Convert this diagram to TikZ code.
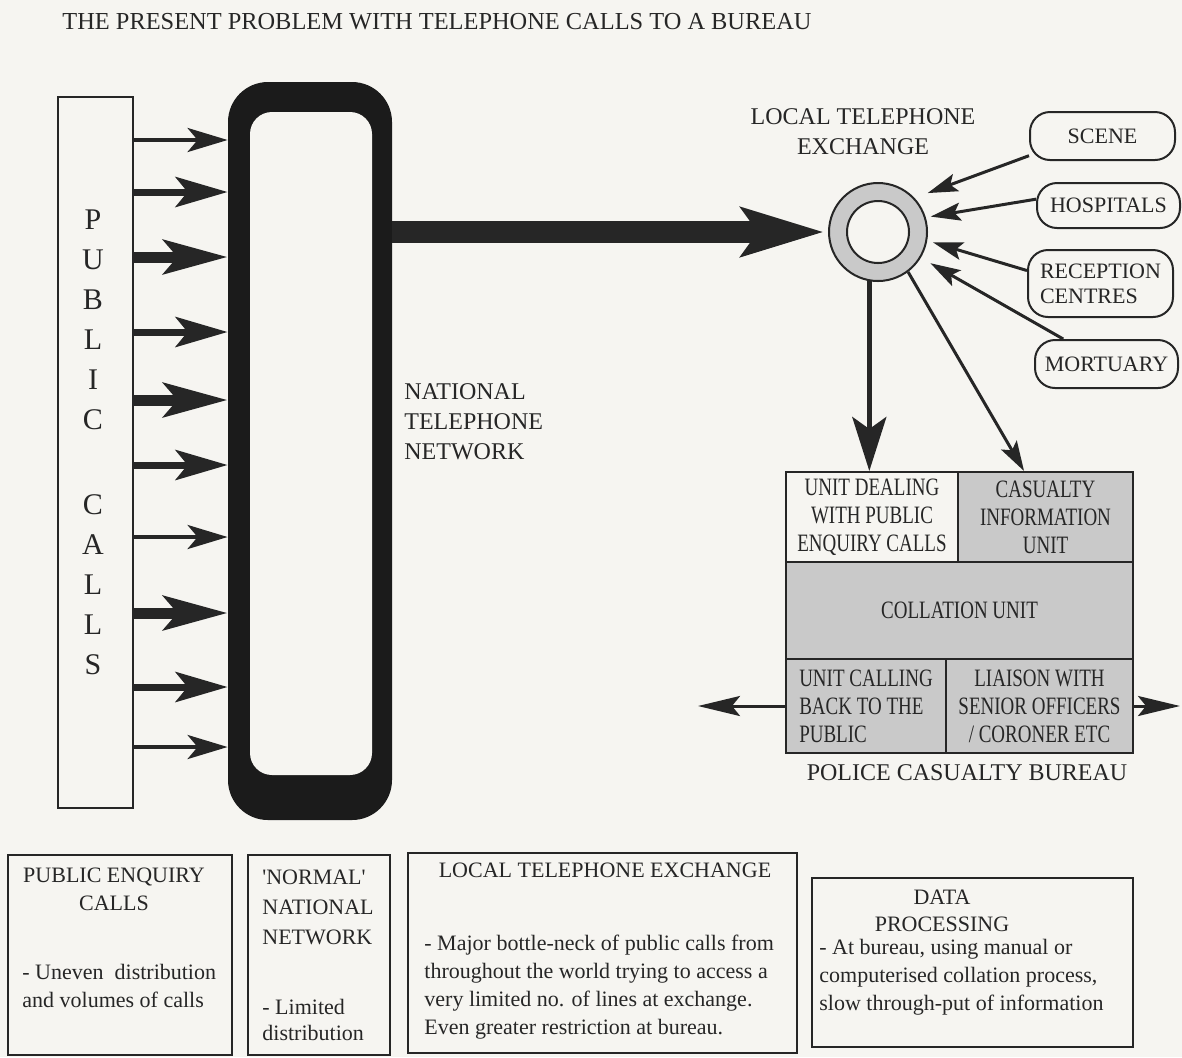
\documentclass[tikz,border=0pt]{standalone}
\usepackage{fontspec}
\setmainfont{Liberation Serif}
\newfontfamily\cellfont[FakeStretch=0.76]{Liberation Serif}
\usepackage{xcolor}
\usetikzlibrary{arrows.meta}
\definecolor{paper}{RGB}{246,245,241}
\definecolor{ink}{RGB}{38,38,38}

\begin{document}
\begin{tikzpicture}[
  x=0.5pt, y=-0.5pt,
  every node/.style={text=ink},
  plainbox/.style={draw=ink, line width=1pt, inner sep=0pt},
  srcbox/.style={draw=ink, line width=1pt, rounded corners=10pt, inner sep=0pt,
                 align=center, font=\fontsize{11}{12.5}\selectfont},
  cell/.style={draw=ink, line width=1pt, inner sep=0pt, align=center,
               font=\cellfont\fontsize{12.5}{14}\selectfont},
  shaded/.style={cell, fill=gray!42},
  lbl/.style={font=\fontsize{12}{15}\selectfont, inner sep=0pt},
  note/.style={font=\fontsize{11}{14}\selectfont, inner sep=0pt},
  callthin/.style={draw=ink, line width=2pt,
                   -{Stealth[length=20pt, width=12pt, inset=5pt]}},
  callmid/.style={draw=ink, line width=3.5pt,
                  -{Stealth[length=26pt, width=15pt, inset=6pt]}},
  callthick/.style={draw=ink, line width=5.5pt,
                    -{Stealth[length=32pt, width=17pt, inset=7pt]}},
  trunk/.style={draw=ink, line width=11pt,
                -{Stealth[length=41pt, width=24pt, inset=8pt]}},
  feed/.style={draw=ink, line width=1.5pt,
               -{Stealth[length=15pt, width=9pt, inset=3pt]}},
  drop/.style={draw=ink, line width=2.5pt,
               -{Stealth[length=27pt, width=17pt, inset=6pt]}},
]
  % paper and frame of the page
  \fill[paper] (0,0) rectangle (1182,1057);
  \useasboundingbox (0,0) rectangle (1182,1057);

  % Title
  \node[anchor=west, inner sep=0pt, font=\fontsize{12.2}{14}\selectfont]
    (title) at (62,22) {THE PRESENT PROBLEM WITH TELEPHONE CALLS TO A BUREAU};

  % Public calls column
  \node[plainbox, minimum width=37.5pt, minimum height=355.5pt] (pubbox) at (95.5,452.5) {};
  \node[align=center, inner sep=0pt, font=\fontsize{15}{20}\selectfont]
    (publetters) at (93,442) {P\\U\\B\\L\\I\\C\\[22.5pt]C\\A\\L\\L\\S};

  % National network (thick frame)
  \node[fill=ink!70!black, rounded corners=20pt, minimum width=82pt, minimum height=369pt,
        inner sep=0pt] (netframe) at (310,451) {};
  \node[fill=paper, rounded corners=11pt, minimum width=61pt, minimum height=331.5pt,
        inner sep=0pt] (nethole) at (311,443.5) {};
  \node[lbl, anchor=west, align=left] (natlabel) at (404,422)
    {NATIONAL\\TELEPHONE\\NETWORK};

  % Calls into the network
  \foreach \y/\kind in {140/callthin, 192/callmid, 257/callthick, 332/callmid,
                        400/callthick, 465/callmid, 537/callthin, 613/callthick,
                        687/callmid, 747/callthin}
    \draw[\kind] (pubbox.east |- 0,\y) -- (netframe.west |- 0,\y);

  % Local exchange
  \node[circle, draw=ink, line width=1pt, fill=gray!42, minimum size=49pt,
        inner sep=0pt] (ring) at (878,232) {};
  \node[circle, draw=ink, line width=1pt, fill=paper, minimum size=31pt,
        inner sep=0pt] (ringhole) at (878,232) {};
  \node[lbl, align=center] (exchlabel) at (863,132) {LOCAL TELEPHONE\\EXCHANGE};
  \draw[trunk, shorten >=2pt] (netframe.east |- ring.west) -- (ring.west);

  % Other callers
  \node[srcbox, minimum width=72.5pt, minimum height=24pt] (scene) at (1102.5,136) {SCENE};
  \node[srcbox, minimum width=71.5pt, minimum height=22.5pt] (hosp) at (1108.5,205.5) {HOSPITALS};
  \node[srcbox, minimum width=72.5pt, minimum height=33.5pt, align=left] (recep)
    at (1100.5,283.5) {RECEPTION\\CENTRES};
  \node[srcbox, minimum width=71.5pt, minimum height=24pt] (mort) at (1106.5,364) {MORTUARY};

  \draw[feed, shorten >=7pt] (scene.195) -- (ring.43);
  \draw[feed, shorten >=2.5pt] (hosp.175) -- (ring.17);
  \draw[feed, shorten >=3pt] (recep.170) -- (ring.-10);
  \draw[feed, shorten >=5.5pt] (mort.150) -- (ring.-31);

  % Police casualty bureau
  \node[cell, fill=paper, minimum width=86pt, minimum height=45pt] (deal) at (872,517)
    {UNIT DEALING\\WITH PUBLIC\\ENQUIRY CALLS};
  \node[shaded, minimum width=87.5pt, minimum height=45pt] (info) at (1045.5,517)
    {CASUALTY\\INFORMATION\\UNIT};
  \node[shaded, minimum width=173.5pt, minimum height=48.5pt] (coll) at (959.5,610.5)
    {COLLATION UNIT};
  \node[shaded, minimum width=80pt, minimum height=47pt, align=left] (back) at (866,706)
    {UNIT CALLING\\BACK TO THE\\PUBLIC};
  \node[shaded, minimum width=93.5pt, minimum height=47pt] (liaison) at (1039.5,706)
    {LIAISON WITH\\SENIOR OFFICERS\\/ CORONER ETC};
  \node[lbl] (bureaulabel) at (967,773) {POLICE CASUALTY BUREAU};

  \draw[drop] (ring.-100) -- (ring.-100 |- deal.north);
  \draw[feed] (ring.-53) -- (info.115);

  \coordinate (outleft) at (698,706);
  \coordinate (outright) at (1180,706);
  \draw[feed, -{Stealth[length=21pt, width=10pt, inset=4pt]}] (back.west) -- (outleft);
  \draw[feed, -{Stealth[length=21pt, width=10pt, inset=4pt]}] (liaison.east) -- (outright);

  % Notes along the bottom
  \node[plainbox, minimum width=112pt, minimum height=100pt] (pubnote) at (120,955) {};
  \node[plainbox, minimum width=71pt, minimum height=100pt] (netnote) at (319,955) {};
  \node[plainbox, minimum width=194.5pt, minimum height=100pt] (exchnote) at (602.5,953) {};
  \node[plainbox, minimum width=160.5pt, minimum height=84.5pt] (datanote) at (972.5,962.5) {};

  \node[note, align=center] (pubhead) at (114,889) {PUBLIC ENQUIRY\\CALLS};
  \node[note, anchor=west, align=left] (pubbody) at (22,986)
    {- Uneven\ \ distribution\\and volumes of calls};

  \node[note, anchor=west, align=left, font=\fontsize{11}{15}\selectfont] (nethead) at (262,907)
    {\textquotesingle NORMAL\textquotesingle\\NATIONAL\\NETWORK};
  \node[note, anchor=west, align=left, font=\fontsize{11}{13}\selectfont] (netbody) at (262,1020)
    {- Limited\\distribution};

  \node[note] (exchhead) at (605,870) {LOCAL TELEPHONE EXCHANGE};
  \node[note, anchor=west, align=left] (exchbody) at (424,987)
    {- Major bottle-neck of public calls from\\throughout the world trying to access a\\
     very limited no. of lines at exchange.\\Even greater restriction at bureau.};

  \node[note, align=center, font=\fontsize{11}{13.5}\selectfont] (datahead) at (942,911)
    {DATA\\PROCESSING};
  \node[note, anchor=west, align=left] (databody) at (819,977)
    {- At bureau, using manual or\\computerised collation process,\\
     slow through-put of information};
\end{tikzpicture}
\end{document}
